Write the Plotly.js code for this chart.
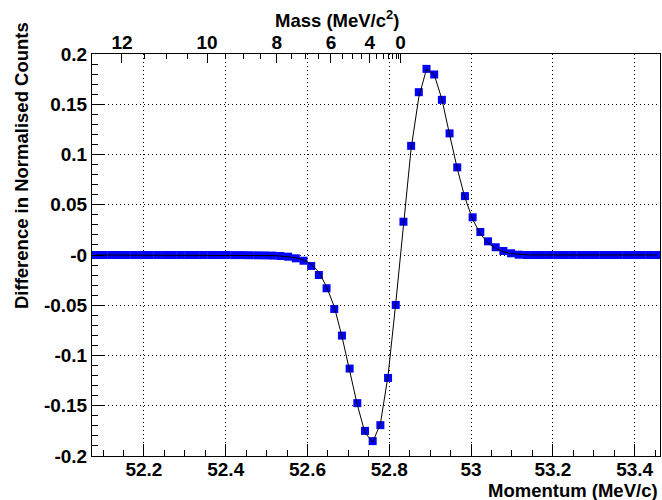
<!DOCTYPE html>
<html>
<head>
<meta charset="utf-8">
<script src="https://cdn.plot.ly/plotly-3.0.1.min.js"></script>
<style>html,body{margin:0;padding:0;background:#fff;}#chart{width:662px;height:500px;}</style>
</head>
<body>
<div id="chart"></div>
<script>
// Momentum bin centres (MeV/c)
var momentum = [
  52.0826, 52.1014, 52.1202, 52.1390, 52.1578, 52.1766, 52.1954, 52.2142, 52.2330, 52.2518,
  52.2706, 52.2894, 52.3082, 52.3270, 52.3458, 52.3646, 52.3834, 52.4022, 52.4210, 52.4398,
  52.4586, 52.4774, 52.4962, 52.5150, 52.5338, 52.5526, 52.5714, 52.5902, 52.6090, 52.6278,
  52.6466, 52.6654, 52.6842, 52.7030, 52.7218, 52.7406, 52.7594, 52.7782, 52.7970, 52.8158,
  52.8346, 52.8534, 52.8722, 52.8910, 52.9098, 52.9286, 52.9474, 52.9662, 52.9850, 53.0038,
  53.0226, 53.0414, 53.0602, 53.0790, 53.0978, 53.1166, 53.1354, 53.1542, 53.1730, 53.1918,
  53.2106, 53.2294, 53.2482, 53.2670, 53.2858, 53.3046, 53.3234, 53.3422, 53.3610, 53.3798,
  53.3986, 53.4174, 53.4362, 53.4550
];
// Difference in normalised counts (data points)
var diffData = [
  0, 0, 0, 0, 0, 0, 0, 0, 0, 0,
  0, 0, 0, 0, 0, 0, 0, 0, -0.0001, -0.0001,
  -0.0002, -0.0003, -0.0004, -0.0006, -0.0010, -0.0017, -0.0033, -0.0057, -0.0109, -0.0199,
  -0.0331, -0.0537, -0.0802, -0.1130, -0.1474, -0.1750, -0.1852, -0.1693, -0.1223, -0.0497,
  0.0331, 0.1086, 0.1620, 0.1852, 0.1796, 0.1544, 0.1210, 0.0872, 0.0586, 0.0375,
  0.0229, 0.0136, 0.0077, 0.0040, 0.0017, 0.0003, 0, 0, 0, 0,
  0, 0, 0, 0, 0, 0, 0, 0, 0, 0,
  0, 0, 0, 0
];
// Model curve drawn as a thin black line
var diffModel = [
  0, 0, 0, 0, 0, 0, 0, 0, 0, 0,
  0, 0, 0, 0, 0, 0, 0, 0, -0.0001, -0.0001,
  -0.0002, -0.0003, -0.0004, -0.0006, -0.0010, -0.0016, -0.0028, -0.0050, -0.0090, -0.0170,
  -0.0315, -0.0514, -0.0810, -0.1150, -0.1490, -0.1770, -0.1862, -0.1680, -0.1200, -0.0480,
  0.0320, 0.1060, 0.1570, 0.1850, 0.1796, 0.1550, 0.1200, 0.0860, 0.0570, 0.0355,
  0.0210, 0.0120, 0.0065, 0.0033, 0.0014, 0.0005, 0.0002, 0, 0, 0,
  0, 0, 0, 0, 0, 0, 0, 0, 0, 0,
  0, 0, 0, 0
];
// Axis ticks
var momTickVals = [52.2, 52.4, 52.6, 52.8, 53.0, 53.2, 53.4];
var momTickText = ['52.2', '52.4', '52.6', '52.8', '53', '53.2', '53.4'];
var momMinorVals = [52.1, 52.15, 52.25, 52.3, 52.35, 52.45, 52.5, 52.55, 52.65, 52.7, 52.75,
                    52.85, 52.9, 52.95, 53.05, 53.1, 53.15, 53.25, 53.3, 53.35, 53.45];
var yTickVals = [-0.2, -0.15, -0.1, -0.05, 0, 0.05, 0.1, 0.15, 0.2];
var yTickText = ['-0.2', '-0.15', '-0.1', '-0.05', '-0', '0.05', '0.1', '0.15', '0.2'];
var yMinorVals = [-0.19, -0.18, -0.17, -0.16, -0.14, -0.13, -0.12, -0.11, -0.09, -0.08, -0.07, -0.06,
                  -0.04, -0.03, -0.02, -0.01, 0.01, 0.02, 0.03, 0.04, 0.06, 0.07, 0.08, 0.09,
                  0.11, 0.12, 0.13, 0.14, 0.16, 0.17, 0.18, 0.19];
var massLabels = [12, 10, 8, 6, 4, 0];
var massMinor = [11.5, 11, 10.5, 9.5, 9, 8.5, 7.5, 7, 6.5, 5.5, 5, 4.5, 3.5, 3, 2.5, 2, 1.5, 1, 0.5];

// Kinematics: positron momentum in mu -> e X for a neutral of mass m
var M_MU = 105.658, M_E = 0.511;
function momentumFromMass(m) {
  var a = M_MU * M_MU - (M_E + m) * (M_E + m);
  var b = M_MU * M_MU - (m - M_E) * (m - M_E);
  return Math.sqrt(a * b) / (2 * M_MU);
}
var massTickPos = massLabels.map(momentumFromMass);
var massMinorPos = massMinor.map(momentumFromMass);

var xRange = [52.073, 53.462];
var FONT = {family: 'Liberation Sans, Arial, Helvetica, sans-serif', size: 19, color: '#000', weight: 'bold'};
var TFONT = {family: 'Liberation Sans, Arial, Helvetica, sans-serif', size: 18.5, color: '#000', weight: 'bold'};

// plot area in pixels (for placing the titles)
var L = 92, R = 660, T = 54, B = 456;
function px(x) { return (x - L) / (R - L); }
function py(y) { return (B - y) / (B - T); }

var traces = [
  {
    x: momentum, y: diffData, type: 'scatter', mode: 'markers',
    marker: {symbol: 'square', size: 8, color: '#0000ff', line: {width: 0}},
    xaxis: 'x', yaxis: 'y', hoverinfo: 'skip', cliponaxis: true
  },
  {
    x: momentum, y: diffModel, type: 'scatter', mode: 'lines',
    line: {color: '#000', width: 1},
    xaxis: 'x2', yaxis: 'y', hoverinfo: 'skip'
  }
];

var grid = {showgrid: true, gridcolor: '#000', gridwidth: 1, griddash: '1px,3px'};

var layout = {
  width: 662, height: 500,
  margin: {l: L, r: 662 - R, t: T, b: 500 - B, pad: 0},
  paper_bgcolor: '#fff', plot_bgcolor: '#fff',
  showlegend: false,
  font: FONT,
  xaxis: Object.assign({
    range: xRange, tickmode: 'array', tickvals: momTickVals, ticktext: momTickText,
    ticks: 'inside', ticklen: 12, tickwidth: 1, tickcolor: '#000',
    minor: {tickmode: 'array', tickvals: momMinorVals, ticks: 'inside', ticklen: 6, tickwidth: 1, tickcolor: '#000', showgrid: false},
    showline: true, mirror: true, linecolor: '#000', linewidth: 1,
    zeroline: false, tickfont: FONT, ticklabelstandoff: -4
  }, grid),
  xaxis2: {
    overlaying: 'x', side: 'top', anchor: 'y', range: xRange,
    tickmode: 'array', tickvals: massTickPos, ticktext: massLabels.map(String),
    ticks: 'inside', ticklen: 9, tickwidth: 1, tickcolor: '#000',
    minor: {tickmode: 'array', tickvals: massMinorPos, ticks: 'inside', ticklen: 4.5, tickwidth: 1, tickcolor: '#000', showgrid: false},
    showgrid: false, showline: false, zeroline: false, tickfont: FONT
  },
  yaxis: Object.assign({
    range: [-0.2, 0.2], tickmode: 'array', tickvals: yTickVals, ticktext: yTickText,
    ticks: 'inside', ticklen: 12, tickwidth: 1, tickcolor: '#000',
    minor: {tickmode: 'array', tickvals: yMinorVals, ticks: 'inside', ticklen: 6, tickwidth: 1, tickcolor: '#000', showgrid: false},
    showline: true, mirror: true, linecolor: '#000', linewidth: 1,
    zeroline: false, tickfont: FONT
  }, grid),
  annotations: [
    {text: 'Difference in Normalised Counts', textangle: -90, xref: 'paper', yref: 'paper',
     x: px(21), y: py(166), xanchor: 'center', yanchor: 'middle', showarrow: false, font: TFONT},
    {text: 'Momentum (MeV/c)', xref: 'paper', yref: 'paper',
     x: px(660), y: py(490), xanchor: 'right', yanchor: 'middle', showarrow: false, font: TFONT},
    {text: 'Mass (MeV/c<sup>2</sup>)', xref: 'paper', yref: 'paper',
     x: px(401), y: py(19), xanchor: 'right', yanchor: 'middle', showarrow: false, font: TFONT}
  ]
};

Plotly.newPlot('chart', traces, layout, {staticPlot: true, displayModeBar: false});
</script>
</body>
</html>
